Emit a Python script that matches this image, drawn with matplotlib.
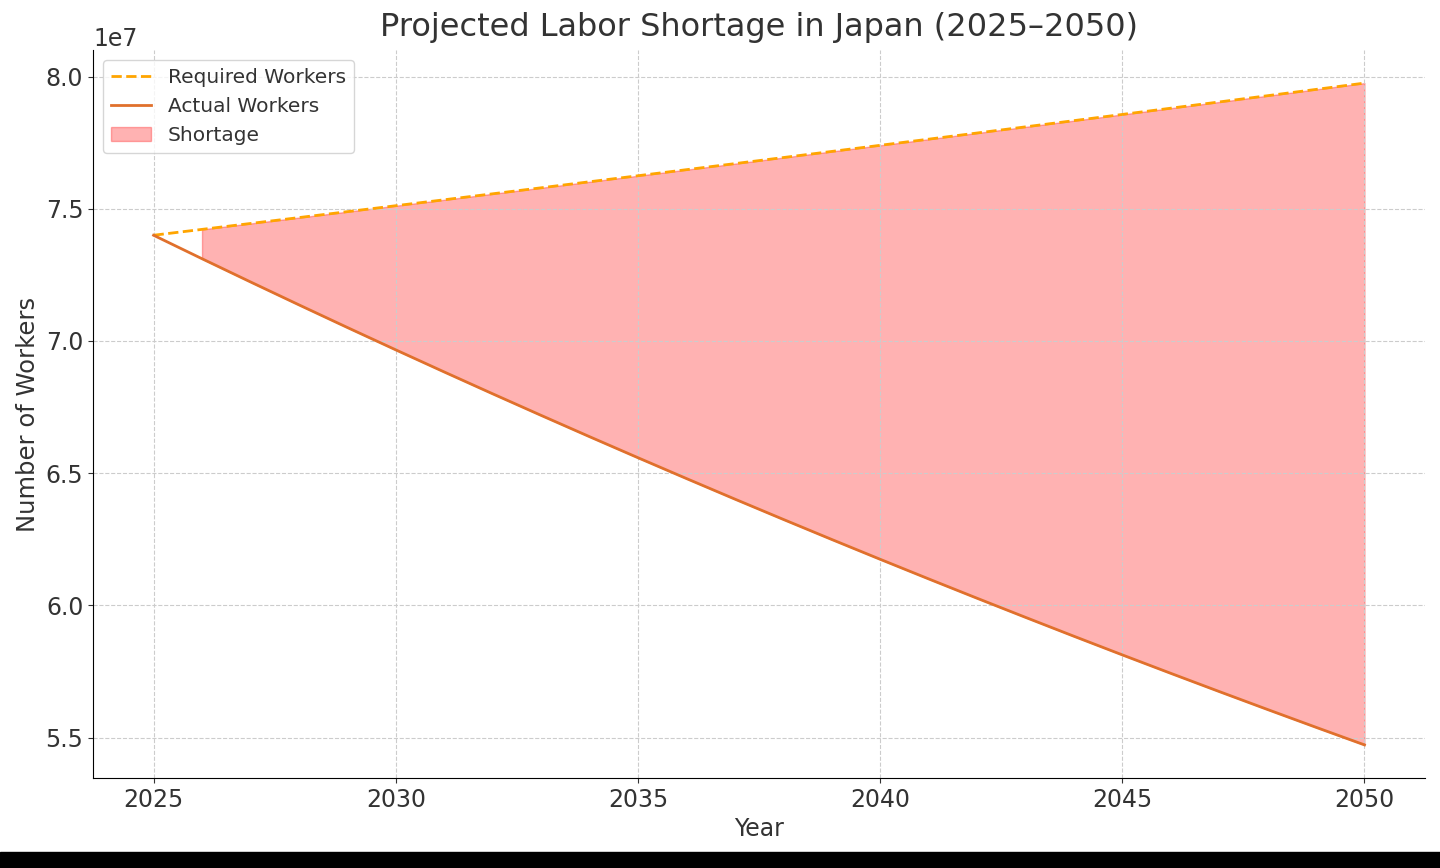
import matplotlib
matplotlib.use("Agg")
import matplotlib.pyplot as plt
import numpy as np
from matplotlib.patches import Rectangle

years = list(range(2025, 2051))
required_workers = [74.000, 74.222, 74.445, 74.668, 74.892, 75.117, 75.342, 75.568,
                    75.795, 76.023, 76.251, 76.480, 76.709, 76.939, 77.170, 77.402,
                    77.634, 77.867, 78.100, 78.335, 78.570, 78.806, 79.042, 79.279,
                    79.517, 79.756]
actual_workers = [74.000, 73.112, 72.235, 71.368, 70.511, 69.665, 68.829, 68.003,
                  67.187, 66.381, 65.585, 64.798, 64.020, 63.252, 62.493, 61.743,
                  61.002, 60.270, 59.547, 58.832, 58.126, 57.429, 56.740, 56.059,
                  55.386, 54.721]

yrs = np.array(years)
req = np.array(required_workers) * 1e6
act = np.array(actual_workers) * 1e6

fig = plt.figure(figsize=(14.4, 8.68), dpi=100)
ax = fig.add_axes([0.0646, 0.1037, 0.925, 0.8387])

ax.plot(yrs, req, linestyle='--', color='orange', linewidth=2, label='Required Workers')
ax.plot(yrs, act, color='#e0702c', linewidth=2, label='Actual Workers')
ax.fill_between(yrs, act, req, where=(req - act) > 1e6, color='red', alpha=0.3,
                label='Shortage')

ax.set_title('Projected Labor Shortage in Japan (2025–2050)', fontsize=23, color='#333333', pad=10)
ax.set_xlabel('Year', fontsize=17, color='#333333', labelpad=4)
ax.set_ylabel('Number of Workers', fontsize=17.5, color='#333333', labelpad=4)
ax.tick_params(labelsize=17, colors='#333333')
ax.yaxis.get_offset_text().set_fontsize(17)
ax.yaxis.get_offset_text().set_color('#333333')
ax.grid(True, linestyle='--', color='#cccccc', linewidth=0.8)
for s in ['top', 'right']:
    ax.spines[s].set_visible(False)
ax.legend(loc='upper left', fontsize=14.5, labelcolor='#333333')

fig.patches.append(Rectangle((0, 0), 1, 16/868, transform=fig.transFigure,
                             color='black', zorder=10))

fig.savefig('out.png', dpi=100)
